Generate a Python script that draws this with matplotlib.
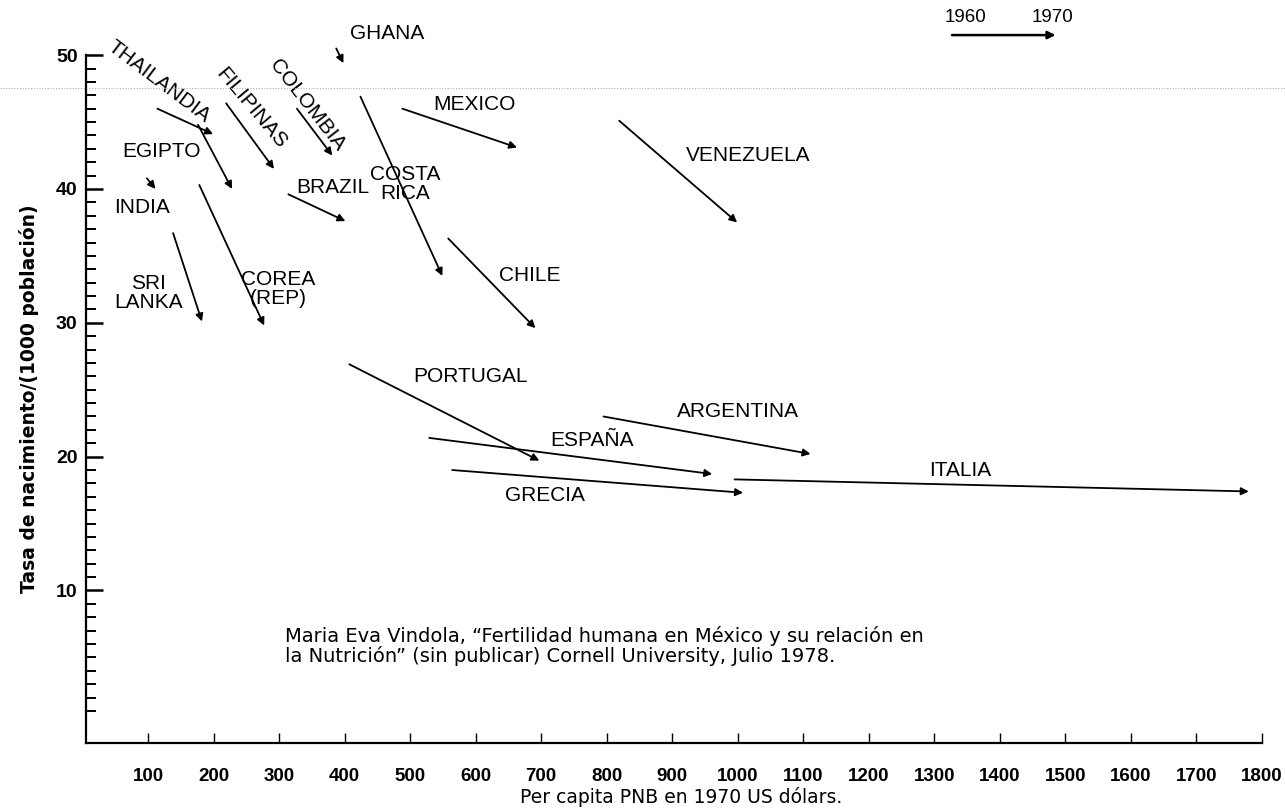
import matplotlib
matplotlib.use("Agg")
import matplotlib.pyplot as plt
from matplotlib.lines import Line2D

plt.rcParams['font.family'] = ['Liberation Sans', 'DejaVu Sans']

# ---- data: per capita GNP (US$ 1970) and birth rate (per 1000), 1960 -> 1970
countries = ["THAILANDIA", "EGIPTO", "INDIA", "FILIPINAS", "COLOMBIA", "GHANA",
             "BRAZIL", "COSTA RICA", "MEXICO", "VENEZUELA", "CHILE", "SRI LANKA",
             "COREA (REP)", "PORTUGAL", "ESPAÑA", "GRECIA", "ARGENTINA", "ITALIA"]
gnp_1960 = [114, 176, 98, 219, 327, 387, 314, 424, 488, 819, 558, 138, 178, 407, 529, 564, 795, 995]
gnp_1970 = [199, 228, 111, 292, 381, 398, 401, 549, 663, 999, 691, 182, 277, 697, 961, 1008, 1111, 1780]
br_1960 = [46.0, 44.8, 40.8, 46.4, 46.0, 50.5, 39.6, 46.9, 46.0, 45.1, 36.3, 36.7, 40.3, 26.9, 21.4, 19.0, 23.0, 18.3]
br_1970 = [44.1, 40.0, 40.0, 41.5, 42.5, 49.4, 37.6, 33.5, 43.1, 37.5, 29.6, 30.1, 29.8, 19.7, 18.7, 17.3, 20.2, 17.4]

# label texts and their placement (data coords) and rotation
label_text = ["THAILANDIA", "EGIPTO", "INDIA", "FILIPINAS", "COLOMBIA", "GHANA",
              "BRAZIL", "COSTA\nRICA", "MEXICO", "VENEZUELA", "CHILE", "SRI\nLANKA",
              "COREA\n(REP)", "PORTUGAL", "ESPAÑA", "GRECIA", "ARGENTINA", "ITALIA"]
label_x = [117, 121, 91, 257, 343, 465, 382, 492, 598, 1016, 682, 100, 298, 592, 778, 706, 1001, 1340]
label_y = [48.0, 42.8, 38.6, 46.0, 46.3, 51.6, 40.1, 40.4, 46.3, 42.5, 33.5, 32.2, 32.5, 26.0, 21.2, 17.1, 23.4, 19.0]
label_rot = [-37, 0, 0, -50, -52, 0, 0, 0, 0, 0, 0, 0, 0, 0, 0, 0, 0, 0]

x_ticks = list(range(100, 1900, 100))
y_major = [10, 20, 30, 40, 50]
y_minor = [v for v in range(0, 50) if v % 10 != 0]

fig = plt.figure(figsize=(12.85, 8.11), dpi=100)
ax = fig.add_axes([0.0669, 0.0838, 0.9151, 0.8482])
ax.set_xlim(5, 1800)
ax.set_ylim(-1.4, 50)

for s in ("top", "right"):
    ax.spines[s].set_visible(False)
for s in ("left", "bottom"):
    ax.spines[s].set_linewidth(1.6)
    ax.spines[s].set_color("black")

ax.set_xticks(x_ticks)
ax.set_xticklabels([str(v) for v in x_ticks])
ax.set_yticks(y_major)
ax.set_yticks(y_minor, minor=True)
ax.tick_params(axis="x", direction="in", length=7, width=1.0, pad=18, labelsize=13.5)
ax.tick_params(axis="y", which="major", direction="in", length=12, width=1.8, pad=6, labelsize=14)
ax.tick_params(axis="y", which="minor", direction="in", length=7.5, width=1.4)
for lab in ax.get_xticklabels() + ax.get_yticklabels():
    lab.set_fontweight("bold")

fig.text(0.53, 1 - 797 / 811, "Per capita PNB en 1970 US dólars.", fontsize=13.5,
         ha="center", va="center", family=["DejaVu Sans"])
ax.set_ylabel("Tasa de nacimiento/(1000 población)", fontsize=13.5, fontweight="bold",
              labelpad=12, family=["DejaVu Sans"])

# arrows 1960 -> 1970
for x0, y0, x1, y1 in zip(gnp_1960, br_1960, gnp_1970, br_1970):
    ax.annotate("", xy=(x1, y1), xytext=(x0, y0),
                arrowprops=dict(arrowstyle="-|>", color="black", lw=1.3,
                                mutation_scale=11, shrinkA=0, shrinkB=0),
                annotation_clip=False)

for t, x, y, r in zip(label_text, label_x, label_y, label_rot):
    ax.text(x, y, t, fontsize=15, ha="center", va="center", rotation=r,
            rotation_mode="anchor", linespacing=1.0, clip_on=False)

# legend arrow
leg_years = ["1960", "1970"]
ax.annotate("", xy=(1485, 51.5), xytext=(1327, 51.5),
            arrowprops=dict(arrowstyle="-|>", color="black", lw=1.8,
                            mutation_scale=11, shrinkA=0, shrinkB=0),
            annotation_clip=False)
ax.text(1348, 52.8, leg_years[0], fontsize=13.5, ha="center", va="center", clip_on=False)
ax.text(1480, 52.8, leg_years[1], fontsize=13.5, ha="center", va="center", clip_on=False)

# citation
ax.text(309, 6.6, "Maria Eva Vindola, \u201cFertilidad humana en México y su relación en",
        fontsize=14, ha="left", va="center", family=["DejaVu Sans"])
ax.text(309, 5.1, "la Nutrición\u201d (sin publicar) Cornell University, Julio 1978.",
        fontsize=14, ha="left", va="center", family=["DejaVu Sans"])

# faint scan line
fig.add_artist(Line2D([0, 1], [0.8915, 0.8915], transform=fig.transFigure,
                      color="#b0b0b0", lw=0.8, ls=(0, (1, 1.5))))

fig.savefig("out.png", dpi=100)
